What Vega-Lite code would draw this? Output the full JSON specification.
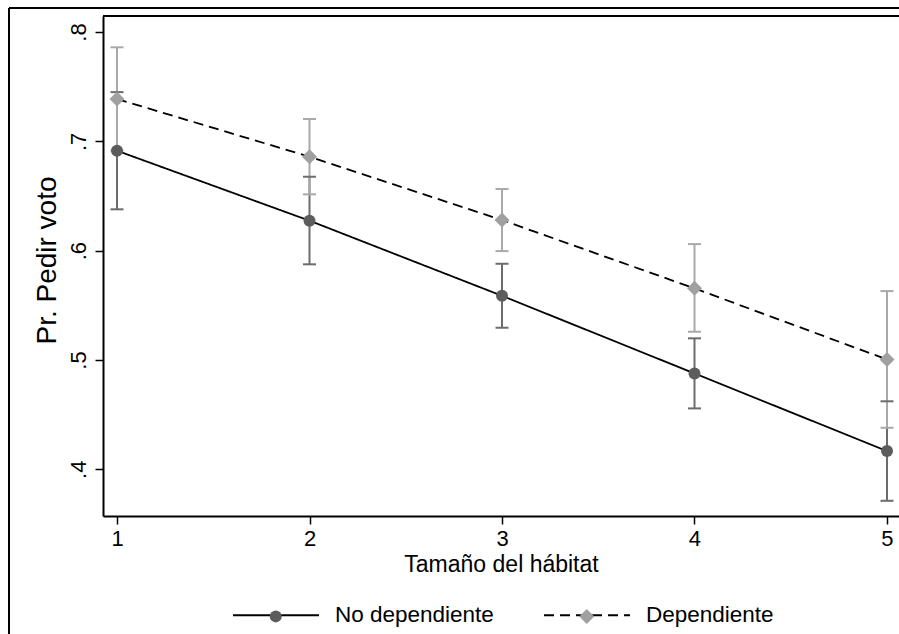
{
  "$schema": "https://vega.github.io/schema/vega-lite/v6.json",
  "width": 796,
  "height": 500,
  "autosize": {"type": "none"},
  "padding": {"left": 103, "top": 16, "right": 0, "bottom": 118},
  "background": "white",
  "config": {
    "view": {"stroke": null},
    "font": "Liberation Sans",
    "axis": {
      "domainColor": "black", "domainWidth": 2,
      "tickColor": "black", "tickWidth": 1.5, "tickSize": 8,
      "labelColor": "black", "labelFont": "Liberation Sans", "labelFontSize": 22,
      "titleFont": "Liberation Sans", "titleFontSize": 23, "titleFontWeight": "normal", "titleColor": "black",
      "grid": false
    },
    "axisY": {"titleFontSize": 28, "titleY": 244},
    "legend": {"labelFont": "Liberation Sans", "labelFontSize": 22.5, "labelColor": "black", "padding": 0, "symbolOpacity": 1}
  },
  "data": {"values": [
    {"habitat": 1, "grupo": "No dependiente", "grupo_m": "No dependiente", "pr": 0.6914, "lo": 0.6378, "hi": 0.745},
    {"habitat": 2, "grupo": "No dependiente", "grupo_m": "No dependiente", "pr": 0.6274, "lo": 0.5875, "hi": 0.6676},
    {"habitat": 3, "grupo": "No dependiente", "grupo_m": "No dependiente", "pr": 0.5587, "lo": 0.5295, "hi": 0.588},
    {"habitat": 4, "grupo": "No dependiente", "grupo_m": "No dependiente", "pr": 0.4877, "lo": 0.4557, "hi": 0.5198},
    {"habitat": 5, "grupo": "No dependiente", "grupo_m": "No dependiente", "pr": 0.4167, "lo": 0.3712, "hi": 0.4622},
    {"habitat": 1, "grupo": "Dependiente", "grupo_m": "Dependiente", "pr": 0.7387, "lo": 0.6914, "hi": 0.786},
    {"habitat": 2, "grupo": "Dependiente", "grupo_m": "Dependiente", "pr": 0.6859, "lo": 0.6515, "hi": 0.7204},
    {"habitat": 3, "grupo": "Dependiente", "grupo_m": "Dependiente", "pr": 0.628, "lo": 0.5996, "hi": 0.6564},
    {"habitat": 4, "grupo": "Dependiente", "grupo_m": "Dependiente", "pr": 0.5655, "lo": 0.5258, "hi": 0.606},
    {"habitat": 5, "grupo": "Dependiente", "grupo_m": "Dependiente", "pr": 0.5005, "lo": 0.438, "hi": 0.563}
  ]},
  "layer": [
    {
      "mark": {"type": "rule", "strokeWidth": 2},
      "encoding": {
        "x": {"field": "habitat", "type": "quantitative", "scale": {"domain": [0.92727, 5.06234], "nice": false, "zero": false},
          "axis": {"values": [1, 2, 3, 4, 5], "format": "d", "title": "Tamaño del hábitat", "labelPadding": 4, "titlePadding": 4}},
        "y": {"field": "lo", "type": "quantitative", "scale": {"domain": [0.35729, 0.81463], "nice": false, "zero": false},
          "axis": {"values": [0.4, 0.5, 0.6, 0.7, 0.8], "labelExpr": "slice(format(datum.value, '.1f'), 1)", "labelAngle": -90, "labelAlign": "center", "labelBaseline": "alphabetic", "labelPadding": 10, "title": "Pr. Pedir voto", "titlePadding": 6}},
        "y2": {"field": "hi"},
        "stroke": {"condition": {"test": "datum.grupo == 'Dependiente'", "value": "#a9a9a9"}, "value": "#6c6c6c"}
      }
    },
    {
      "mark": {"type": "rule", "strokeWidth": 2, "xOffset": -6.5, "x2Offset": 6.5},
      "encoding": {
        "x": {"field": "habitat", "type": "quantitative", "scale": {"domain": [0.92727, 5.06234], "nice": false, "zero": false},
          "axis": {"values": [1, 2, 3, 4, 5], "format": "d", "title": "Tamaño del hábitat", "labelPadding": 4, "titlePadding": 4}},
        "x2": {"field": "habitat"},
        "y": {"field": "lo", "type": "quantitative", "scale": {"domain": [0.35729, 0.81463], "nice": false, "zero": false},
          "axis": {"values": [0.4, 0.5, 0.6, 0.7, 0.8], "labelExpr": "slice(format(datum.value, '.1f'), 1)", "labelAngle": -90, "labelAlign": "center", "labelBaseline": "alphabetic", "labelPadding": 10, "title": "Pr. Pedir voto", "titlePadding": 6}},
        "stroke": {"condition": {"test": "datum.grupo == 'Dependiente'", "value": "#a9a9a9"}, "value": "#6c6c6c"}
      }
    },
    {
      "mark": {"type": "rule", "strokeWidth": 2, "xOffset": -6.5, "x2Offset": 6.5},
      "encoding": {
        "x": {"field": "habitat", "type": "quantitative", "scale": {"domain": [0.92727, 5.06234], "nice": false, "zero": false},
          "axis": {"values": [1, 2, 3, 4, 5], "format": "d", "title": "Tamaño del hábitat", "labelPadding": 4, "titlePadding": 4}},
        "x2": {"field": "habitat"},
        "y": {"field": "hi", "type": "quantitative", "scale": {"domain": [0.35729, 0.81463], "nice": false, "zero": false},
          "axis": {"values": [0.4, 0.5, 0.6, 0.7, 0.8], "labelExpr": "slice(format(datum.value, '.1f'), 1)", "labelAngle": -90, "labelAlign": "center", "labelBaseline": "alphabetic", "labelPadding": 10, "title": "Pr. Pedir voto", "titlePadding": 6}},
        "stroke": {"condition": {"test": "datum.grupo == 'Dependiente'", "value": "#a9a9a9"}, "value": "#6c6c6c"}
      }
    },
    {
      "mark": {"type": "line", "color": "black", "strokeWidth": 1.8},
      "encoding": {
        "x": {"field": "habitat", "type": "quantitative", "scale": {"domain": [0.92727, 5.06234], "nice": false, "zero": false},
          "axis": {"values": [1, 2, 3, 4, 5], "format": "d", "title": "Tamaño del hábitat", "labelPadding": 4, "titlePadding": 4}},
        "y": {"field": "pr", "type": "quantitative", "scale": {"domain": [0.35729, 0.81463], "nice": false, "zero": false},
          "axis": {"values": [0.4, 0.5, 0.6, 0.7, 0.8], "labelExpr": "slice(format(datum.value, '.1f'), 1)", "labelAngle": -90, "labelAlign": "center", "labelBaseline": "alphabetic", "labelPadding": 10, "title": "Pr. Pedir voto", "titlePadding": 6}},
        "strokeDash": {"field": "grupo", "type": "nominal", "sort": ["No dependiente", "Dependiente"],
          "scale": {"range": [[1, 0], [10, 6]]},
          "legend": {"orient": "none", "legendX": 129, "legendY": 555, "direction": "horizontal", "title": null,
            "symbolType": "stroke", "symbolSize": 7396, "symbolStrokeWidth": 1.8, "symbolStrokeColor": "black",
            "labelOffset": 15, "columnPadding": 46}}
      }
    },
    {
      "mark": {"type": "point", "filled": true, "opacity": 1, "strokeWidth": 0},
      "encoding": {
        "x": {"field": "habitat", "type": "quantitative", "scale": {"domain": [0.92727, 5.06234], "nice": false, "zero": false},
          "axis": {"values": [1, 2, 3, 4, 5], "format": "d", "title": "Tamaño del hábitat", "labelPadding": 4, "titlePadding": 4}},
        "y": {"field": "pr", "type": "quantitative", "scale": {"domain": [0.35729, 0.81463], "nice": false, "zero": false},
          "axis": {"values": [0.4, 0.5, 0.6, 0.7, 0.8], "labelExpr": "slice(format(datum.value, '.1f'), 1)", "labelAngle": -90, "labelAlign": "center", "labelBaseline": "alphabetic", "labelPadding": 10, "title": "Pr. Pedir voto", "titlePadding": 6}},
        "fill": {"field": "grupo_m", "type": "nominal", "scale": {"domain": ["No dependiente", "Dependiente"], "range": ["#5c5c5c", "#a0a0a0"]},
          "legend": {"orient": "none", "legendX": 161.5, "legendY": 589, "direction": "horizontal", "title": null,
            "labelOffset": 0, "columnPadding": 288, "labelExpr": "''", "symbolStrokeWidth": 0}},
        "size": {"field": "grupo_m", "type": "nominal", "scale": {"domain": ["No dependiente", "Dependiente"], "range": [144, 225]},
          "legend": {"orient": "none", "legendX": 161.5, "legendY": 589, "direction": "horizontal", "title": null,
            "labelOffset": 0, "columnPadding": 288, "labelExpr": "''", "symbolStrokeWidth": 0}},
        "shape": {"field": "grupo_m", "type": "nominal",
          "scale": {"domain": ["No dependiente", "Dependiente"], "range": ["circle", "diamond"]},
          "legend": {"orient": "none", "legendX": 161.5, "legendY": 589, "direction": "horizontal", "title": null,
            "labelOffset": 0, "columnPadding": 288, "labelExpr": "''", "symbolStrokeWidth": 0}}
      }
    },
    {
      "data": {"values": [{}]},
      "mark": {"type": "rule", "stroke": "black", "strokeWidth": 2},
      "encoding": {
        "x": {"datum": 0.43896, "type": "quantitative", "scale": {"domain": [0.92727, 5.06234], "nice": false, "zero": false},
          "axis": {"values": [1, 2, 3, 4, 5], "format": "d", "title": "Tamaño del hábitat", "labelPadding": 4, "titlePadding": 4}},
        "x2": {"datum": 5.5},
        "y": {"datum": 0.82196, "type": "quantitative", "scale": {"domain": [0.35729, 0.81463], "nice": false, "zero": false},
          "axis": {"values": [0.4, 0.5, 0.6, 0.7, 0.8], "labelExpr": "slice(format(datum.value, '.1f'), 1)", "labelAngle": -90, "labelAlign": "center", "labelBaseline": "alphabetic", "labelPadding": 10, "title": "Pr. Pedir voto", "titlePadding": 6}}
      }
    },
    {
      "data": {"values": [{}]},
      "mark": {"type": "rule", "stroke": "black", "strokeWidth": 2},
      "encoding": {
        "x": {"datum": 0.43896, "type": "quantitative", "scale": {"domain": [0.92727, 5.06234], "nice": false, "zero": false},
          "axis": {"values": [1, 2, 3, 4, 5], "format": "d", "title": "Tamaño del hábitat", "labelPadding": 4, "titlePadding": 4}},
        "y": {"datum": 0.82196, "type": "quantitative", "scale": {"domain": [0.35729, 0.81463], "nice": false, "zero": false},
          "axis": {"values": [0.4, 0.5, 0.6, 0.7, 0.8], "labelExpr": "slice(format(datum.value, '.1f'), 1)", "labelAngle": -90, "labelAlign": "center", "labelBaseline": "alphabetic", "labelPadding": 10, "title": "Pr. Pedir voto", "titlePadding": 6}},
        "y2": {"datum": 0.2}
      }
    },
    {
      "data": {"values": [{}]},
      "mark": {"type": "rule", "stroke": "black", "strokeWidth": 2},
      "encoding": {
        "x": {"datum": 0.92727, "type": "quantitative", "scale": {"domain": [0.92727, 5.06234], "nice": false, "zero": false},
          "axis": {"values": [1, 2, 3, 4, 5], "format": "d", "title": "Tamaño del hábitat", "labelPadding": 4, "titlePadding": 4}},
        "x2": {"datum": 5.06234},
        "y": {"datum": 0.81463, "type": "quantitative", "scale": {"domain": [0.35729, 0.81463], "nice": false, "zero": false},
          "axis": {"values": [0.4, 0.5, 0.6, 0.7, 0.8], "labelExpr": "slice(format(datum.value, '.1f'), 1)", "labelAngle": -90, "labelAlign": "center", "labelBaseline": "alphabetic", "labelPadding": 10, "title": "Pr. Pedir voto", "titlePadding": 6}}
      }
    }
  ]
}
